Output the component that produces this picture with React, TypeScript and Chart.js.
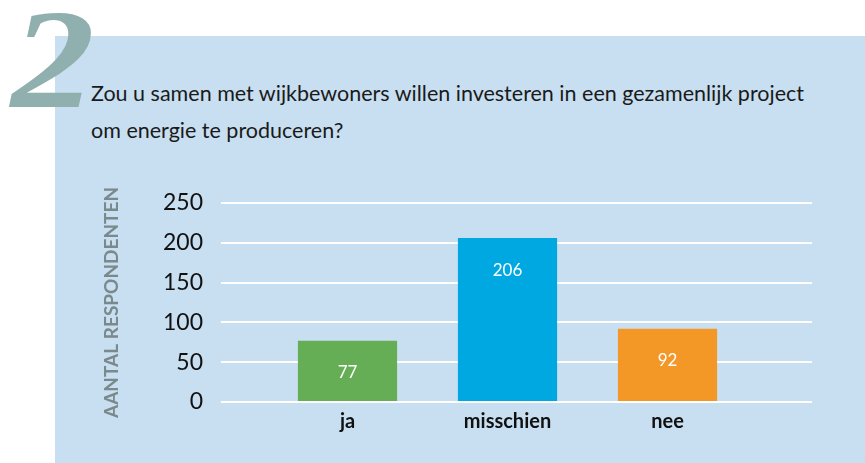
import React, { useEffect, useRef } from "react";
import { Chart, registerables } from "chart.js";

Chart.register(...registerables);

const categories = ["ja", "misschien", "nee"];
const values = [77, 206, 92];
const barColors = ["#65ae55", "#00a8e2", "#f39727"];
const yTicks = [0, 50, 100, 150, 200, 250];
const titleLines = [
  "Zou u samen met wijkbewoners willen investeren in een gezamenlijk project",
  "om energie te produceren?",
];
const yAxisTitle = "AANTAL RESPONDENTEN";
const questionNumber = "2";

const FONT = "Lato, 'Open Sans', sans-serif";

const valueLabelPlugin = {
  id: "valueLabels",
  afterDatasetsDraw(chart: any) {
    const ctx = chart.ctx;
    const meta = chart.getDatasetMeta(0);
    ctx.save();
    ctx.fillStyle = "#ffffff";
    ctx.font = `17px ${FONT}`;
    ctx.textAlign = "center";
    ctx.textBaseline = "middle";
    meta.data.forEach((bar: any, i: number) => {
      ctx.fillText(String(values[i]), bar.x, bar.y + 32);
    });
    ctx.restore();
  },
};

export default function App() {
  const ref = useRef<HTMLCanvasElement>(null);

  useEffect(() => {
    const chart = new Chart(ref.current!, {
      type: "bar",
      data: {
        datasets: [
          {
            data: values.map((v, i) => ({ x: i, y: v })),
            backgroundColor: barColors,
            borderWidth: 0,
            barPercentage: 0.62,
            categoryPercentage: 1,
          },
        ],
      },
      options: {
        animation: false,
        responsive: false,
        maintainAspectRatio: false,
        layout: { padding: { top: 53, right: 53, bottom: 0, left: 0 } },
        plugins: {
          legend: { display: false },
          tooltip: { enabled: false },
        },
        scales: {
          x: {
            type: "linear",
            offset: false,
            min: -0.7906,
            max: 2.903,
            afterFit: (s: any) => {
              s.height = 61;
            },
            grid: { display: false, drawTicks: false, offset: false },
            border: { display: false },
            ticks: {
              stepSize: 1,
              includeBounds: false,
              autoSkip: false,
              maxRotation: 0,
              padding: 8,
              color: "#111111",
              font: { family: FONT, size: 20, weight: "bold" },
              callback: (v: any) =>
                Number.isInteger(v) && categories[v] !== undefined ? categories[v] : "",
            },
          },
          y: {
            min: 0,
            max: 250,
            afterFit: (s: any) => {
              s.width = 166;
            },
            afterBuildTicks: (s: any) => {
              s.ticks = yTicks.map((v) => ({ value: v }));
            },
            grid: { color: "#ffffff", lineWidth: 2, drawTicks: false },
            border: { display: false },
            ticks: {
              padding: 18,
              color: "#111111",
              font: { family: FONT, size: 23 },
            },
            title: {
              display: true,
              text: yAxisTitle,
              color: "#7a898b",
              font: { family: FONT, size: 19, weight: "bold" },
              padding: { top: 45, bottom: 0 },
            },
          },
        },
      },
      plugins: [valueLabelPlugin],
    } as any);
    return () => chart.destroy();
  }, []);

  return (
    <div
      style={{
        position: "fixed",
        left: 0,
        top: 0,
        width: 865,
        height: 463,
        background: "#ffffff",
        overflow: "hidden",
      }}
    >
      <div
        style={{
          position: "absolute",
          left: 55,
          top: 36,
          right: 0,
          bottom: 0,
          background: "#c8dff1",
        }}
      />
      <div
        style={{
          position: "absolute",
          left: 11,
          top: -12,
          fontFamily: "'Liberation Serif', 'DejaVu Serif', serif",
          fontSize: 142,
          fontStyle: "italic",
          fontWeight: "bold",
          lineHeight: 1,
          color: "#8fb0ae",
          transform: "scaleX(1.18)",
          transformOrigin: "left top",
        }}
      >
        {questionNumber}
      </div>
      <div
        style={{
          position: "absolute",
          left: 91,
          top: 75,
          fontFamily: FONT,
          fontSize: 21.5,
          lineHeight: "37px",
          color: "#1a1a1a",
          whiteSpace: "nowrap",
        }}
      >
        {titleLines.map((l, i) => (
          <div key={i}>{l}</div>
        ))}
      </div>
      <canvas
        ref={ref}
        width={810}
        height={313}
        style={{ position: "absolute", left: 55, top: 150, width: 810, height: 313 }}
      />
    </div>
  );
}
